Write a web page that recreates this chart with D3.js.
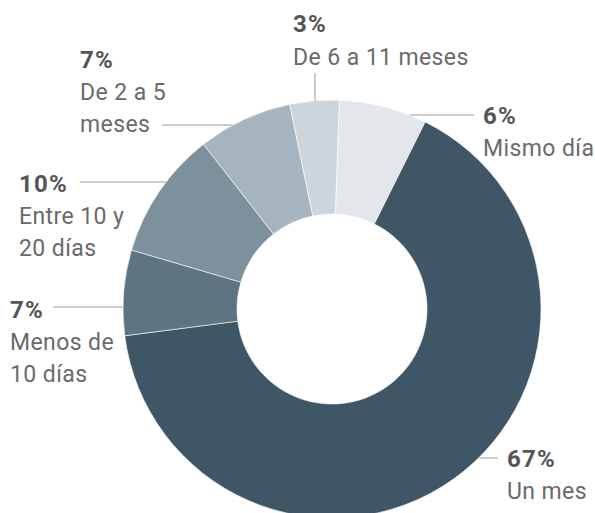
<!DOCTYPE html>
<html><head><meta charset="utf-8">
<script src="https://cdn.jsdelivr.net/npm/d3@7"></script>
<style>html,body{margin:0;padding:0;background:#fff;overflow:hidden}</style>
</head><body>
<svg id="c" width="595" height="513"></svg>
<script>
// Data (slice sizes, in drawing order clockwise from the top)
const categories = ["Mismo día", "Un mes", "Menos de 10 días", "Entre 10 y 20 días", "De 2 a 5 meses", "De 6 a 11 meses"];
const values = [6.8, 65.6, 6.6, 9.9, 7.3, 3.8];
const pctLabels = ["6%", "67%", "7%", "10%", "7%", "3%"];
const nameLines = [["Mismo día"], ["Un mes"], ["Menos de", "10 días"], ["Entre 10 y", "20 días"], ["De 2 a 5", "meses"], ["De 6 a 11 meses"]];
const colors = ["#e3e7ec", "#3f5666", "#5e7482", "#7d919d", "#a5b4be", "#cdd5dc"];

// Layout
const cx = 332, cy = 309, R = 209, r = 95;
const startDeg = 2;
const layout = [
  {x: 483, y: 124, line: {x1: 474, y1: 115, toward: "right"}},
  {x: 507, y: 467, line: {x1: 498, y1: 458, toward: "right"}},
  {x: 10,  y: 318, line: {x1: 53,  y1: 307, toward: "left"}},
  {x: 19,  y: 192, line: {x1: 80,  y1: 182, toward: "left"}},
  {x: 80,  y: 68,  line: {x1: 162, y1: 125, toward: "left"}},
  {x: 293, y: 32,  line: {x1: 315, y1: 73, vertical: true}}
];
const lineGap = 32;

const svg = d3.select("#c");
const g = svg.append("g").attr("transform", `translate(${cx},${cy})`);

const pie = d3.pie().sort(null).value(d => d)
  .startAngle(startDeg * Math.PI / 180)
  .endAngle(startDeg * Math.PI / 180 + 2 * Math.PI);
const arc = d3.arc().innerRadius(r).outerRadius(R);

g.selectAll("path").data(pie(values)).join("path")
  .attr("d", arc)
  .attr("fill", (d, i) => colors[i])
  .attr("stroke", "#fff").attr("stroke-width", 0.6);

// leader lines
layout.forEach((L, i) => {
  const ln = L.line;
  let x2, y2;
  if (ln.vertical) {
    const dx = ln.x1 - cx;
    x2 = ln.x1; y2 = cy - Math.sqrt(R * R - dx * dx);
  } else {
    const dy = ln.y1 - cy;
    const h = Math.sqrt(Math.max(0, R * R - dy * dy));
    x2 = ln.toward === "right" ? cx + h : cx - h;
    y2 = ln.y1;
  }
  svg.append("line")
    .attr("x1", ln.x1).attr("y1", ln.y1).attr("x2", x2).attr("y2", y2)
    .attr("stroke", "#bdbdbd").attr("stroke-width", 1.5);
});

// labels
layout.forEach((L, i) => {
  const t = svg.append("g");
  t.append("text").attr("x", L.x).attr("y", L.y)
    .attr("font-family", "Roboto, sans-serif").attr("font-size", 24)
    .attr("font-weight", "bold").attr("fill", "#555").attr("letter-spacing", 1.2)
    .text(pctLabels[i]);
  nameLines[i].forEach((s, k) => {
    t.append("text").attr("x", L.x).attr("y", L.y + lineGap * (k + 1) + (i === 5 ? 1 : 0))
      .attr("font-family", "Roboto, sans-serif").attr("font-size", 23)
      .attr("font-weight", 400).attr("fill", "#6a6a6a").attr("letter-spacing", 0.4)
      .text(s);
  });
});
</script>
</body></html>
